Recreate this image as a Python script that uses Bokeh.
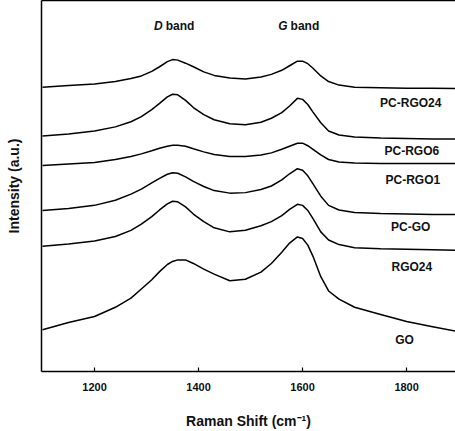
from bokeh.plotting import figure
from bokeh.models import Range1d, LinearAxis, FixedTicker, ColumnDataSource
from bokeh.core.properties import value
from bokeh.embed import file_html
from bokeh.resources import INLINE

# Raman shift grid (cm^-1)
shift = [1100, 1150, 1200, 1240, 1270, 1290, 1310, 1325, 1340, 1350, 1360, 1375, 1390, 1410,
         1430, 1460, 1490, 1520, 1540, 1560, 1575, 1590, 1600, 1610, 1620, 1635, 1650, 1670,
         1700, 1750, 1800, 1850, 1900]

# stacked intensities (a.u., offset)
pc_rgo24 = [279, 280.5, 282, 284.5, 287.5, 290, 294.5, 299, 304, 306, 305.5, 302.5, 299, 294,
            290.5, 288, 287, 289, 291.5, 295.5, 300, 304.5, 304.5, 302, 297.5, 290, 284.5, 281,
            279, 278.5, 278, 278, 277.5]
pc_rgo6 = [231, 233, 236, 240, 245, 250, 257, 263, 269.5, 272, 271.5, 266, 259, 252,
           247, 243, 242, 244.5, 248.5, 254, 260.5, 268, 267, 262, 254.5, 244, 236, 232,
           230, 229, 228.5, 228, 228]
pc_rgo1 = [202, 203.5, 205, 208, 211, 213.5, 216.5, 219, 221, 222, 222, 221, 218.5, 215.5,
           213, 211, 211, 212.5, 214.5, 218, 221, 224, 224, 221.5, 218, 212.5, 208, 205.5,
           204.5, 204, 204, 204, 204]
pc_go = [158, 160, 163, 168, 174, 179, 185, 189.5, 193.5, 195, 194.5, 191, 186.5, 181.5,
         177.5, 175, 175.5, 178.5, 182, 188, 194, 199, 197.5, 192, 184, 172, 163, 158.5,
         156, 155, 154.5, 154, 154]
rgo24 = [123, 125, 128, 132.5, 138.5, 144.5, 152, 158.5, 164.5, 167, 166.5, 161.5, 154.5, 147,
         141, 137, 138.5, 143, 147, 153, 159, 164, 163, 158, 150, 137, 129, 124.5,
         121.5, 120.5, 120, 119.5, 119]
go = [41, 48, 54, 63, 72, 81, 90, 98, 105, 108, 109.5, 109.5, 106, 100.5,
      95.5, 89, 90.5, 97.5, 106, 117, 126, 132, 130.5, 124, 113, 93, 79, 71,
      63, 56, 49, 44, 39]

series = [pc_rgo24, pc_rgo6, pc_rgo1, pc_go, rgo24, go]
names = ["PC-RGO24", "PC-RGO6", "PC-RGO1", "PC-GO", "RGO24", "GO"]
x_ticks = [1200, 1400, 1600, 1800]

# label anchors (annotation positions)
label_x = [1808, 1810, 1812, 1808, 1810, 1796]
label_y = [263, 216, 188, 142, 103, 31]

FONT = "Liberation Sans"

p = figure(width=455, height=431, output_backend="svg", toolbar_location=None,
           x_range=Range1d(1098, 1894), y_range=Range1d(0, 364),
           min_border_left=41, min_border_right=0, min_border_top=0, min_border_bottom=60,
           outline_line_color=None, background_fill_color="white")
p.grid.visible = False

for s in series:
    p.line(shift, s, line_color="black", line_width=1.5)

src = ColumnDataSource(dict(x=label_x, y=label_y, t=names))
p.text(x="x", y="y", text="t", source=src, text_font=value(FONT), text_font_style="bold",
       text_font_size="12px", text_align="center", text_baseline="middle", text_color="#111111")

# band annotations
p.text(x=[1333, 1573], y=[339, 339], text=["D", "G"], text_font=value(FONT),
       text_font_style="bold italic", text_font_size="12px", text_align="right",
       text_baseline="middle", x_offset=-1, text_color="#111111")
p.text(x=[1333, 1573], y=[339, 339], text=["band", "band"], text_font=value(FONT),
       text_font_style="bold", text_font_size="12px", text_align="left",
       text_baseline="middle", x_offset=2, text_color="#111111")

xa = p.xaxis[0]
xa.ticker = FixedTicker(ticks=x_ticks)
xa.major_tick_in = 4
xa.major_tick_out = 0
xa.minor_tick_in = 0
xa.minor_tick_out = 0
xa.axis_line_width = 1.5
xa.major_tick_line_width = 1.2
xa.major_label_text_font = FONT
xa.major_label_text_font_style = "bold"
xa.major_label_text_font_size = "11px"
xa.major_label_text_color = "#111111"
xa.major_label_standoff = 11
xa.axis_label = "Raman Shift (cm\u207b\u00b9)"
xa.axis_label_text_font = FONT
xa.axis_label_text_font_style = "bold"
xa.axis_label_text_font_size = "14px"
xa.axis_label_text_color = "#111111"
xa.axis_label_standoff = 19

ya = p.yaxis[0]
ya.ticker = FixedTicker(ticks=[])
ya.major_tick_in = 0
ya.major_tick_out = 0
ya.minor_tick_in = 0
ya.minor_tick_out = 0
ya.axis_line_width = 1.5
ya.major_label_standoff = 0
ya.axis_label = "Intensity (a.u.)"
ya.axis_label_text_font = FONT
ya.axis_label_text_font_style = "bold"
ya.axis_label_text_font_size = "14px"
ya.axis_label_text_color = "#111111"
ya.axis_label_standoff = 20

top = LinearAxis(ticker=FixedTicker(ticks=[]), major_tick_in=0, major_tick_out=0,
                 minor_tick_in=0, minor_tick_out=0, major_label_standoff=0,
                 axis_label_standoff=0, axis_line_width=1.5,
                 major_label_text_font_size="0px")
p.add_layout(top, "above")

open("out.html", "w").write(file_html(p, INLINE))
